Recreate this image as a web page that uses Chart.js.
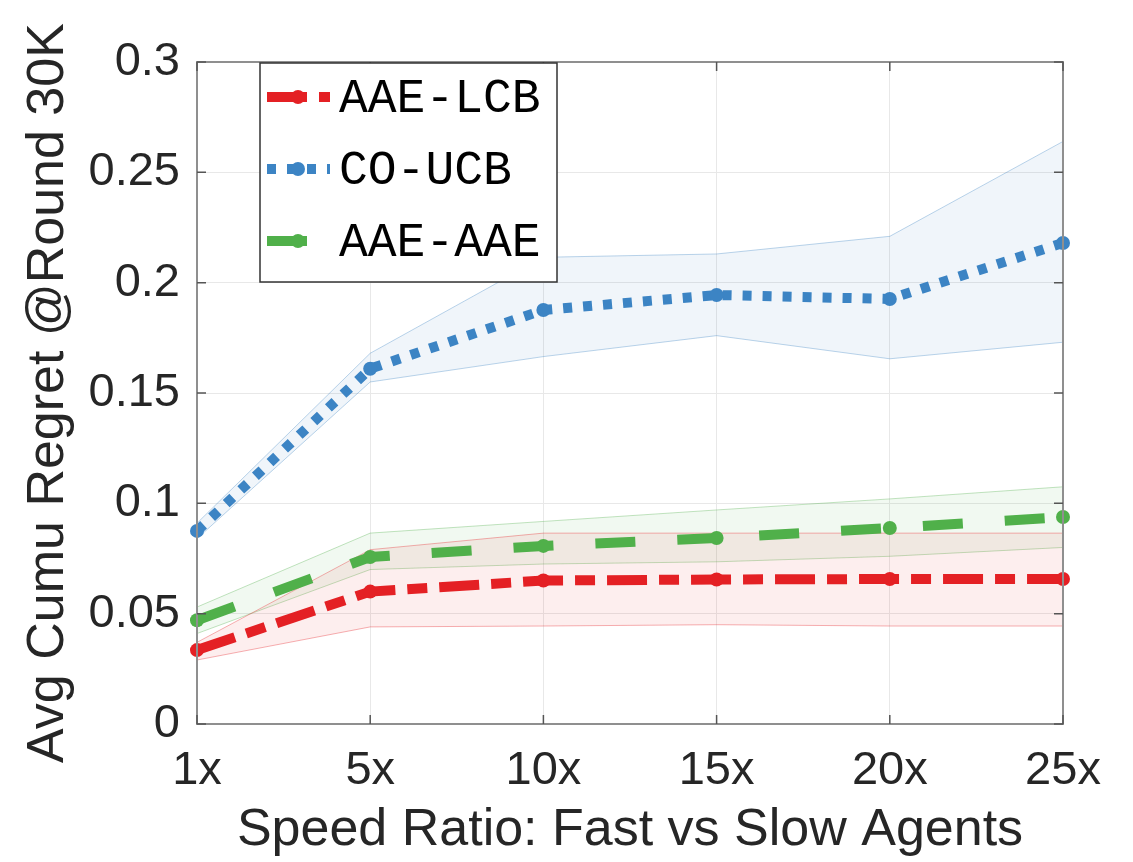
<!DOCTYPE html>
<html>
<head>
<meta charset="utf-8">
<script src="https://cdn.jsdelivr.net/npm/chart.js@4.4.0/dist/chart.umd.min.js"></script>
<style>
  body { margin: 0; background: #fff; }
  canvas { display: block; }
</style>
</head>
<body>
<canvas id="regret_chart" width="1133" height="862"></canvas>
<script>
// speed ratios on the x axis
var labels = ['1x', '5x', '10x', '15x', '20x', '25x'];

// mean regret per method
var aaeLcb = [0.0335, 0.060, 0.065, 0.0655, 0.0657, 0.0657];
var coUcb = [0.0875, 0.161, 0.1876, 0.1944, 0.1926, 0.218];
var aaeAae = [0.047, 0.0757, 0.0807, 0.0843, 0.0888, 0.0938];

// shaded bands (low / high)
var aaeLcbLow = [0.029, 0.044, 0.0444, 0.045, 0.0444, 0.0444];
var aaeLcbHigh = [0.037, 0.079, 0.0865, 0.0865, 0.0865, 0.0865];
var coUcbLow = [0.084, 0.155, 0.1665, 0.176, 0.1655, 0.173];
var coUcbHigh = [0.091, 0.168, 0.2115, 0.213, 0.221, 0.264];
var aaeAaeLow = [0.041, 0.070, 0.0725, 0.0735, 0.076, 0.080];
var aaeAaeHigh = [0.053, 0.0865, 0.0918, 0.097, 0.102, 0.1075];

var yTicks = [0, 0.05, 0.1, 0.15, 0.2, 0.25, 0.3];

var red = 'rgb(228,32,36)';
var blue = 'rgb(60,132,196)';
var green = 'rgb(80,176,74)';

function band(data, rgb, fill) {
	return {
		data: data,
		borderColor: 'rgba(' + rgb + ',0.35)',
		backgroundColor: 'rgba(' + rgb + ',0.08)',
		borderWidth: 1,
		pointRadius: 0,
		fill: fill,
		order: 1,
		isBand: true
	};
}

function line(label, data, color, dash) {
	return {
		label: label,
		data: data,
		borderColor: color,
		backgroundColor: color,
		borderWidth: 10,
		borderDash: dash,
		borderCapStyle: 'butt',
		pointRadius: 7,
		pointBorderWidth: 0,
		pointBackgroundColor: color,
		fill: false,
		order: 0
	};
}

var fontSans = "'Liberation Sans', Arial, Helvetica, sans-serif";

// axes box with inward ticks, like the original figure
var framePlugin = {
	id: 'frame',
	afterDatasetsDraw: function(chart) {
		var ctx = chart.ctx, a = chart.chartArea;
		var xs = chart.scales.x, ys = chart.scales.y;
		ctx.save();
		ctx.strokeStyle = '#8f8f8f';
		ctx.lineWidth = 2;
		ctx.strokeRect(a.left, a.top, a.right - a.left, a.bottom - a.top);
		ctx.strokeStyle = '#555';
		ctx.lineWidth = 1.5;
		ctx.beginPath();
		ys.ticks.forEach(function(t, i) {
			var y = ys.getPixelForTick(i);
			ctx.moveTo(a.left, y); ctx.lineTo(a.left + 9, y);
			ctx.moveTo(a.right, y); ctx.lineTo(a.right - 9, y);
		});
		xs.ticks.forEach(function(t, i) {
			var x = xs.getPixelForTick(i);
			ctx.moveTo(x, a.bottom); ctx.lineTo(x, a.bottom - 9);
			ctx.moveTo(x, a.top); ctx.lineTo(x, a.top + 9);
		});
		ctx.stroke();
		ctx.restore();
	}
};

// legend box in the upper left of the plot
var legendPlugin = {
	id: 'legendBox',
	afterDraw: function(chart) {
		var ctx = chart.ctx, a = chart.chartArea;
		var left = a.left + 63, top = a.top + 1, w = 297, h = 219;
		ctx.save();
		ctx.fillStyle = '#fff';
		ctx.fillRect(left, top, w, h);
		ctx.strokeStyle = '#333';
		ctx.lineWidth = 1.5;
		ctx.strokeRect(left, top, w, h);
		var rows = chart.data.datasets.filter(function(d) { return !d.isBand; });
		rows.forEach(function(d, i) {
			var cy = top + 34 + i * 72;
			ctx.strokeStyle = d.borderColor;
			ctx.lineWidth = d.borderWidth;
			ctx.setLineDash(d.borderDash);
			ctx.beginPath();
			ctx.moveTo(left + 7, cy);
			ctx.lineTo(left + 70, cy);
			ctx.stroke();
			ctx.setLineDash([]);
			ctx.fillStyle = d.borderColor;
			ctx.beginPath();
			ctx.arc(left + 38, cy, 7, 0, Math.PI * 2);
			ctx.fill();
			ctx.fillStyle = '#000';
			ctx.font = "48px 'Liberation Mono', 'Courier New', monospace";
			ctx.textBaseline = 'middle';
			ctx.fillText(d.label, left + 79, cy + 2);
		});
		ctx.restore();
	}
};

var chart = new Chart(document.getElementById('regret_chart'), {
	type: 'line',
	data: {
		labels: labels,
		datasets: [
			band(aaeLcbLow, '228,32,36', false),
			band(aaeLcbHigh, '228,32,36', '-1'),
			band(coUcbLow, '60,132,196', false),
			band(coUcbHigh, '60,132,196', '-1'),
			band(aaeAaeLow, '80,176,74', false),
			band(aaeAaeHigh, '80,176,74', '-1'),
			line('AAE-LCB', aaeLcb, red, [40, 12, 20, 12]),
			line('CO-UCB', coUcb, blue, [9, 11]),
			line('AAE-AAE', aaeAae, green, [40, 42])
		]
	},
	options: {
		responsive: false,
		animation: false,
		layout: { padding: { top: 62, right: 70, bottom: 0, left: 0 } },
		plugins: {
			legend: { display: false },
			tooltip: { enabled: false }
		},
		scales: {
			x: {
				grid: { color: '#e8e8e8', lineWidth: 1, drawTicks: false },
				border: { display: false },
				ticks: {
					font: { family: fontSans, size: 47 },
					color: '#262626',
					padding: 19,
					maxRotation: 0,
					autoSkip: false
				},
				title: {
					display: true,
					text: 'Speed Ratio: Fast vs Slow Agents',
					font: { family: fontSans, size: 52 },
					color: '#262626',
					padding: { top: 0, bottom: 0 }
				},
				afterFit: function(s) { s.height = 138; }
			},
			y: {
				min: 0,
				max: 0.3,
				afterBuildTicks: function(s) {
					s.ticks = yTicks.map(function(v) { return { value: v }; });
				},
				grid: { color: '#e8e8e8', lineWidth: 1, drawTicks: false },
				border: { display: false },
				ticks: {
					font: { family: fontSans, size: 47 },
					color: '#262626',
					padding: 17,
					callback: function(v) { return String(parseFloat(v.toFixed(2))); }
				},
				title: {
					display: true,
					text: 'Avg Cumu Regret @Round 30K',
					font: { family: fontSans, size: 52 },
					color: '#262626',
					padding: { top: 17, bottom: 0 }
				},
				afterFit: function(s) { s.width = 197; }
			}
		}
	},
	plugins: [framePlugin, legendPlugin]
});
</script>
</body>
</html>
